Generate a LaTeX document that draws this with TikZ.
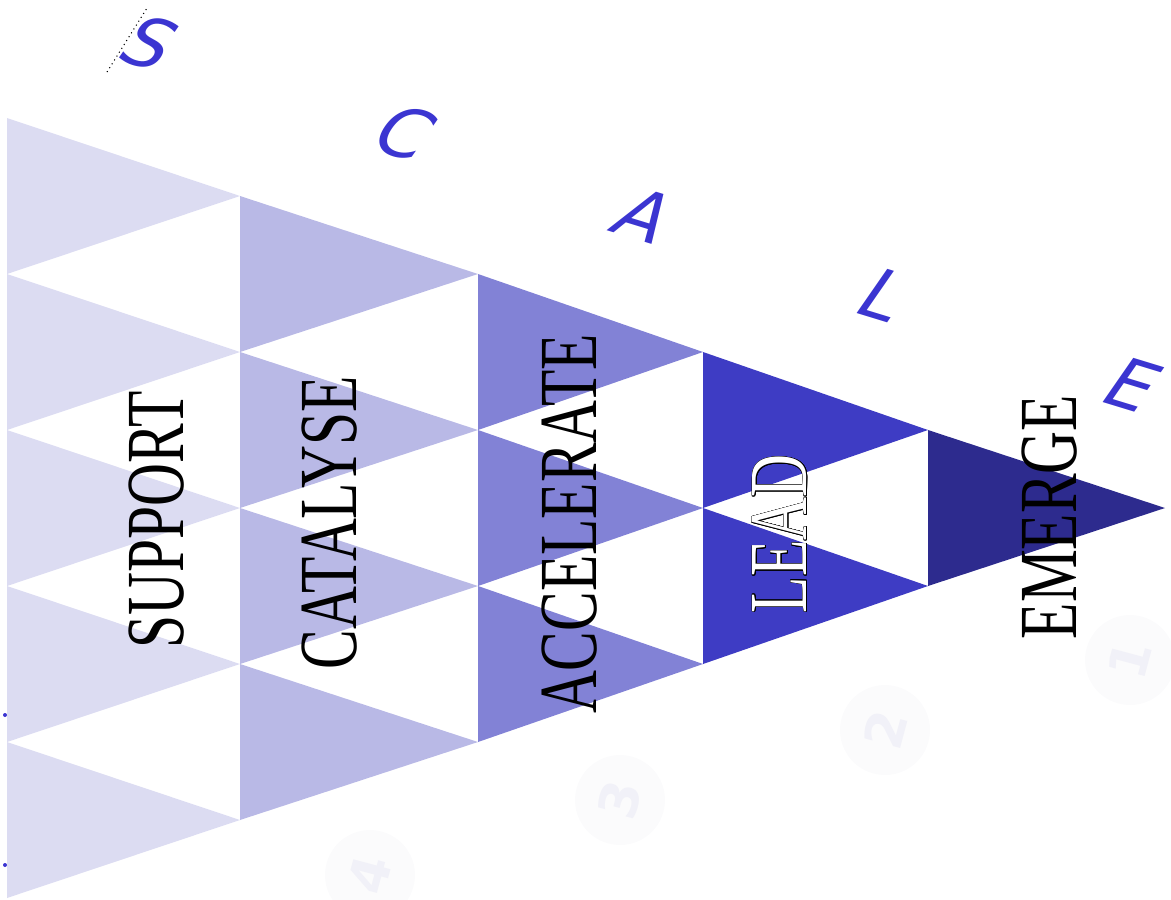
\documentclass[tikz,border=0pt]{standalone}
\usepackage{fontspec}
\setmainfont{Liberation Serif}
\newfontfamily\lettersans{DejaVu Sans}
\usepackage{contour}
\contourlength{0.4pt}
\usetikzlibrary{positioning}
\definecolor{cone}{HTML}{DCDCF2}
\definecolor{ctwo}{HTML}{B9B9E6}
\definecolor{cthree}{HTML}{8282D6}
\definecolor{cfour}{HTML}{3E3CC4}
\definecolor{cfive}{HTML}{2D2B8E}
\definecolor{cletter}{HTML}{3B35D1}
\definecolor{cghost}{HTML}{FBFBFC}
\definecolor{cghosttext}{HTML}{F1F1F8}
\tikzset{
  word/.style={rotate=90, xscale=0.72, inner sep=0pt, font=\fontsize{47}{47}\selectfont},
  letter/.style={text=cletter, rotate=-17, xslant=0.32, inner sep=0pt, font=\lettersans\fontsize{40}{40}\selectfont},
  ghost/.style={circle, fill=cghost, text=cghosttext, minimum size=1.8cm, rotate=75, font=\lettersans\bfseries\fontsize{30}{30}\selectfont},
}

\begin{document}
\begin{tikzpicture}
  \useasboundingbox (0,0) rectangle (23.42,-17.98);
  % the pyramid, one colour per tier
  \foreach \c/\xa/\xb [count=\i from 0] in {cone/0.14/4.8, ctwo/4.8/9.56, cthree/9.56/14.06, cfour/14.06/18.56, cfive/18.56/23.3}{
    \pgfmathtruncatemacro\n{4-\i}
    \foreach \j in {0,...,\n}
      \fill[fill=\c] (\xa,{-2.36-(\i+2*\j)*1.56}) -- ++(0,-3.12)
        -- (\xb,{-2.36-(\i+2*\j+1)*1.56}) -- cycle;
  }
  % tier names
  \node[word] (support) at (3.14,-10.4) {SUPPORT};
  \node[word] (catalyse) at (6.6,-10.46) {CATALYSE};
  \node[word] (accelerate) at (11.4,-10.48) {ACCELERATE};
  \node[word, text=white] (lead) at (15.6,-10.68) {\contour{black}{LEAD}};
  \node[word] (emerge) at (21.0,-10.34) {EMERGE};
  % S C A L E along the top edge
  \node[letter] (ls) at (3.0,-0.86) {S};
  \node[letter] (lc) at (8.1,-2.66) {C};
  \node[letter] (la) at (12.9,-4.3) {A};
  \node[letter] (ll) at (17.7,-5.9) {L};
  \node[letter] (le) at (22.66,-7.7) {E};
  \coordinate (d1) at (2.14,-1.44);
  \coordinate (d2) at (2.94,-0.16);
  \draw[dotted, line width=0.6pt] (d1) -- (d2);
  \fill[cletter] (0.1,-14.3) circle (0.04);
  \fill[cletter] (0.1,-17.3) circle (0.04);
  % faint step numbers
  \node[ghost] (g1) at (22.6,-13.2) {1};
  \node[ghost] (g2) at (17.7,-14.6) {2};
  \node[ghost] (g3) at (12.4,-16.0) {3};
  \node[ghost] (g4) at (7.4,-17.5) {4};
\end{tikzpicture}
\end{document}
